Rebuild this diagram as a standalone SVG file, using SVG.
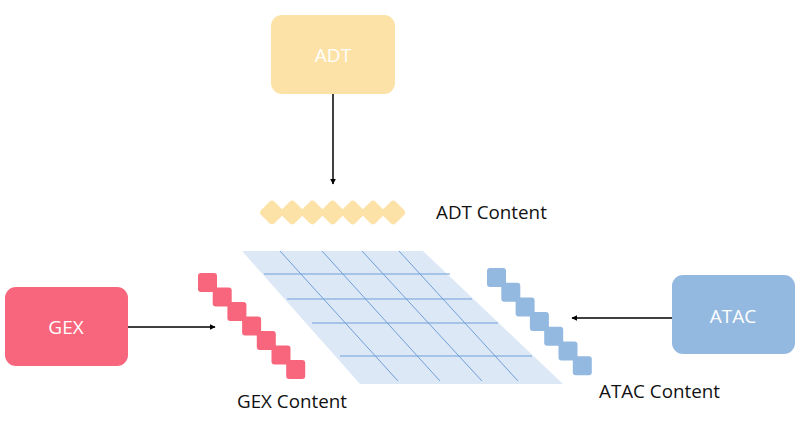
<svg xmlns="http://www.w3.org/2000/svg" width="800" height="426" viewBox="0 0 800 426">
<defs>
<style>
.box{stroke:none}
.btxt{font-family:"Open Sans","Liberation Sans",sans-serif;font-size:19px;fill:#ffffff;text-anchor:middle;dominant-baseline:central}
.lbl{font-family:"Open Sans","Liberation Sans",sans-serif;font-size:18.8px;fill:#111111}
.conn{stroke:#000;stroke-width:1.5;fill:none}
.grid{stroke:#6f9fd8;stroke-width:1;fill:none}
</style>
<marker id="ah" viewBox="0 0 10 10" refX="9" refY="5" markerWidth="6" markerHeight="6" orient="auto" markerUnits="userSpaceOnUse">
<path d="M0,0 L10,5 L0,10 z" fill="#000"/>
</marker>
<rect id="gsq" width="19" height="19" rx="3" fill="#f7667c"/>
<rect id="asq" width="19" height="19" rx="3" fill="#93b9e1"/>
<rect id="dsq" x="-9.5" y="-9.5" width="19" height="19" rx="4" fill="#fde2a8" transform="rotate(45)"/>
</defs>
<rect width="800" height="426" fill="#ffffff"/>

<g id="matrix">
<polygon points="242,251 423,251 563,384 360,384" fill="#dce8f6"/>
<line class="grid" x1="264" y1="274" x2="450" y2="274"/>
<line class="grid" x1="287" y1="299" x2="472" y2="299"/>
<line class="grid" x1="312" y1="323" x2="498" y2="323"/>
<line class="grid" x1="340" y1="356" x2="532" y2="356"/>
<line class="grid" x1="280" y1="251" x2="398" y2="381"/>
<line class="grid" x1="322" y1="251" x2="440" y2="381"/>
<line class="grid" x1="362" y1="251" x2="482" y2="381"/>
<line class="grid" x1="399" y1="251" x2="518" y2="381"/>
</g>

<g id="adt">
<rect class="box" x="271" y="15" width="124" height="79" rx="11" fill="#fde2a8"/>
<text class="btxt" x="333" y="55">ADT</text>
</g>
<g id="gex">
<rect class="box" x="5" y="287" width="123" height="79" rx="11" fill="#f7667c"/>
<text class="btxt" x="66" y="327">GEX</text>
</g>
<g id="atac">
<rect class="box" x="672" y="275" width="123" height="79" rx="11" fill="#93b9e1"/>
<text class="btxt" x="733" y="316">ATAC</text>
</g>

<g id="adt-content">
<use href="#dsq" x="272" y="212.5"/>
<use href="#dsq" x="292.2" y="212.5"/>
<use href="#dsq" x="312.4" y="212.5"/>
<use href="#dsq" x="332.6" y="212.5"/>
<use href="#dsq" x="352.8" y="212.5"/>
<use href="#dsq" x="373" y="212.5"/>
<use href="#dsq" x="393.2" y="212.5"/>
<text class="lbl" x="436" y="219">ADT Content</text>
</g>

<g id="gex-content">
<use href="#gsq" x="198" y="273"/>
<use href="#gsq" x="212.7" y="287.5"/>
<use href="#gsq" x="227.4" y="302"/>
<use href="#gsq" x="242.1" y="316.5"/>
<use href="#gsq" x="256.8" y="331"/>
<use href="#gsq" x="271.5" y="345.5"/>
<use href="#gsq" x="286.2" y="360"/>
<text class="lbl" x="237" y="408">GEX Content</text>
</g>

<g id="atac-content">
<use href="#asq" x="487" y="268"/>
<use href="#asq" x="501.3" y="282.7"/>
<use href="#asq" x="515.6" y="297.4"/>
<use href="#asq" x="529.9" y="312.1"/>
<use href="#asq" x="544.2" y="326.8"/>
<use href="#asq" x="558.5" y="341.5"/>
<use href="#asq" x="572.8" y="356.2"/>
<text class="lbl" x="599" y="398">ATAC Content</text>
</g>

<g id="connectors">
<line class="conn" x1="333" y1="94" x2="333" y2="184" marker-end="url(#ah)"/>
<line class="conn" x1="128" y1="327" x2="215" y2="327" marker-end="url(#ah)"/>
<line class="conn" x1="672" y1="318" x2="572" y2="318" marker-end="url(#ah)"/>
</g>
</svg>
